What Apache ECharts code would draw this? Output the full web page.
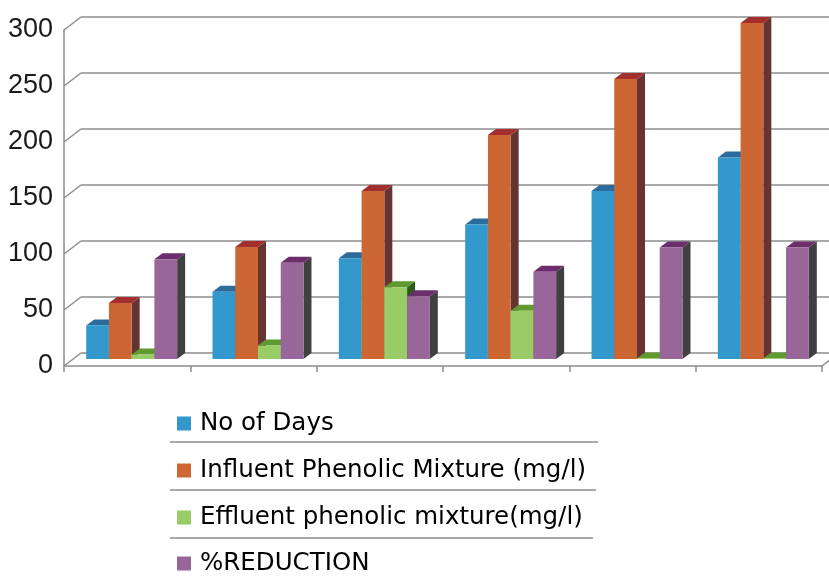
<!DOCTYPE html>
<html>
<head>
<meta charset="utf-8">
<script src="https://cdn.jsdelivr.net/npm/echarts@6/dist/echarts.min.js"></script>
<style>
  html, body { margin: 0; padding: 0; background: #ffffff; }
  #chart { width: 829px; height: 578px; }
</style>
</head>
<body>
<div id="chart"></div>
<script>
// Phenolic mixture treatment run: six sampling stages
const categories = ['1', '2', '3', '4', '5', '6'];
const seriesNames = [
  'No of Days',
  'Influent Phenolic Mixture (mg/l)',
  'Effluent phenolic mixture(mg/l)',
  '%REDUCTION'
];
const noOfDays = [30, 60, 90, 120, 150, 180];
const influent = [50, 100, 150, 200, 250, 300];
const effluent = [4, 12, 64, 43, 0.5, 0.5];
const reduction = [89, 86, 56, 78, 99.5, 99.5];
const yTicks = [0, 50, 100, 150, 200, 250, 300];

// face colours of each 3D column: front, top, side
const palette = [
  { front: '#3399cc', top: '#2c6c9c', side: '#1d4f70' },
  { front: '#cc6633', top: '#a32e2e', side: '#663333' },
  { front: '#99cc66', top: '#5e9a30', side: '#2f5a1c' },
  { front: '#996699', top: '#6b2d6b', side: '#404040' }
];
const values = [noOfDays, influent, effluent, reduction];

// depth of the plot box (back wall offset) and of each column
const WALL_DX = 17, WALL_DY = -13;
const BAR_DX = 8, BAR_DY = -6;
const PLANE_DX = 4.5, PLANE_DY = -7;
const BAR_RATIO = 0.18;

const chart = echarts.init(document.getElementById('chart'), null, { renderer: 'canvas' });

function columnRenderer(sIdx) {
  const c = palette[sIdx];
  return function (params, api) {
    const cat = api.value(0);
    const val = api.value(1);
    const base = api.coord([cat, 0]);
    const top = api.coord([cat, val]);
    const band = api.size([1, 0])[0];
    const w = band * BAR_RATIO;
    const x0 = base[0] + PLANE_DX + (sIdx - 2) * w;
    const x1 = x0 + w;
    const yb = base[1] + PLANE_DY;
    const yt = top[1] + PLANE_DY;
    return {
      type: 'group',
      children: [
        {
          type: 'polygon',
          shape: { points: [[x1, yb], [x1 + BAR_DX, yb + BAR_DY], [x1 + BAR_DX, yt + BAR_DY], [x1, yt]] },
          style: { fill: c.side }
        },
        {
          type: 'polygon',
          shape: { points: [[x0, yt], [x0 + BAR_DX, yt + BAR_DY], [x1 + BAR_DX, yt + BAR_DY], [x1, yt]] },
          style: { fill: c.top }
        },
        {
          type: 'rect',
          shape: { x: x0, y: yt, width: w, height: yb - yt },
          style: { fill: c.front }
        }
      ]
    };
  };
}

const columnSeries = seriesNames.map(function (name, i) {
  return {
    name: name,
    type: 'custom',
    xAxisIndex: 0,
    yAxisIndex: 0,
    renderItem: columnRenderer(i),
    itemStyle: { color: palette[i].front },
    data: values[i].map(function (v, k) { return [k, v]; }),
    z: 5 + i
  };
});

// slanted edges joining the front axis to the back wall gridlines
const edgeSeries = {
  type: 'custom',
  xAxisIndex: 0,
  yAxisIndex: 0,
  silent: true,
  z: 3,
  renderItem: function (params, api) {
    const v = api.value(1);
    const p = api.coord([0, v]);
    const band = api.size([1, 0])[0];
    const left = p[0] - band / 2;
    const kids = [{
      type: 'line',
      shape: { x1: left, y1: p[1], x2: left + WALL_DX, y2: p[1] + WALL_DY },
      style: { stroke: '#8c8c8c', lineWidth: 1.5 }
    }];
    if (v === 0) {
      const right = left + band * categories.length;
      kids.push({
        type: 'line',
        shape: { x1: right, y1: p[1], x2: right + WALL_DX, y2: p[1] + WALL_DY },
        style: { stroke: '#8c8c8c', lineWidth: 1.5 }
      });
    }
    return { type: 'group', children: kids };
  },
  data: yTicks.map(function (v) { return [0, v]; })
};

// one legend row per series, each followed by a rule line
const legendTops = [411, 458, 505, 551];
const legends = seriesNames.map(function (name, i) {
  return {
    data: [name],
    orient: 'vertical',
    left: 177,
    top: legendTops[i],
    padding: 0,
    icon: 'rect',
    itemWidth: 14,
    itemHeight: 14,
    textStyle: {
      color: '#000000',
      fontFamily: '"DejaVu Sans", Verdana, sans-serif',
      fontSize: 24.5,
      lineHeight: 24,
      padding: [0, 0, 0, 4]
    }
  };
});

const option = {
  backgroundColor: '#ffffff',
  animation: false,
  grid: [
    { left: 64, top: 30, right: 7, bottom: 212 },
    { left: 64 + WALL_DX, top: 30 + WALL_DY, right: 7 - WALL_DX, bottom: 212 - WALL_DY }
  ],
  xAxis: [
    {
      type: 'category',
      gridIndex: 0,
      data: categories,
      axisLine: { lineStyle: { color: '#8c8c8c', width: 1.5 } },
      axisTick: { show: true, length: 6, lineStyle: { color: '#8c8c8c', width: 1.5 } },
      axisLabel: { show: false }
    },
    {
      type: 'category',
      gridIndex: 1,
      data: categories,
      show: false
    }
  ],
  yAxis: [
    {
      type: 'value',
      gridIndex: 0,
      min: 0,
      max: 300,
      interval: 50,
      axisLine: { show: true, lineStyle: { color: '#8c8c8c', width: 1.5 } },
      axisTick: { show: false },
      splitLine: { show: false },
      axisLabel: {
        margin: 11,
        color: '#1a1a1a',
        fontFamily: '"Liberation Sans Narrow", "Liberation Sans", Arial, sans-serif',
        fontSize: 27
      }
    },
    {
      type: 'value',
      gridIndex: 1,
      min: 0,
      max: 300,
      interval: 50,
      axisLine: { show: false },
      axisTick: { show: false },
      axisLabel: { show: false },
      splitLine: { show: true, lineStyle: { color: '#8c8c8c', width: 1.5 } }
    }
  ],
  legend: legends,
  graphic: [
    { type: 'line', shape: { x1: 170, y1: 442, x2: 598, y2: 442 }, style: { stroke: '#8c8c8c', lineWidth: 1.5 } },
    { type: 'line', shape: { x1: 170, y1: 490, x2: 596, y2: 490 }, style: { stroke: '#8c8c8c', lineWidth: 1.5 } },
    { type: 'line', shape: { x1: 170, y1: 538, x2: 593, y2: 538 }, style: { stroke: '#8c8c8c', lineWidth: 1.5 } }
  ],
  series: [edgeSeries].concat(columnSeries)
};

chart.setOption(option);
</script>
</body>
</html>
